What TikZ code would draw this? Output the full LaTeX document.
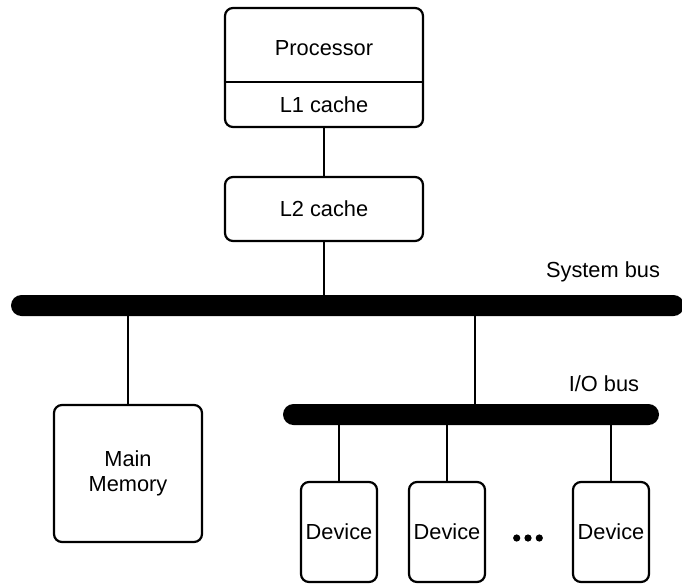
\documentclass[tikz,border=0pt]{standalone}
\usepackage{fontspec}
\setmainfont{Liberation Sans}
\begin{document}
\begin{tikzpicture}[x=1pt,y=-1pt,
  box/.style={draw=black,line width=2.2pt,rounded corners=8pt,inner sep=0pt,fill=white},
  busbar/.style={fill=black,rounded corners=10.5pt,inner sep=0pt,minimum height=21pt},
  wire/.style={draw=black,line width=2.2pt},
  txt/.style={font=\fontsize{21.8}{25}\selectfont,inner sep=0pt,align=center}]
\useasboundingbox (0,0) rectangle (682,584);
% processor with L1 cache
\node[box,minimum width=198pt,minimum height=119pt] (cpu) at (324,67.5) {};
\draw[line width=2.2pt] (cpu.west |- 0,82) coordinate (dl) -- (cpu.east |- 0,82) coordinate (dr);
\node[txt] (proc) at (324,48) {Processor};
\node[txt] (l1) at (324,104.5) {L1 cache};
% L2 cache
\node[box,minimum width=198pt,minimum height=64pt] (l2) at (324,209) {};
\node[txt] (l2t) at (324,209) {L2 cache};
% system bus
\node[busbar,minimum width=673pt] (sys) at (347.5,305.5) {};
\node[txt] (syst) at (603,272) {System bus};
% memory
\node[box,minimum width=148pt,minimum height=137pt,txt] (mem) at (128,473.5) {Main\\Memory};
% I/O bus
\node[busbar,minimum width=376pt] (io) at (471,414.5) {};
\node[txt] (iot) at (604,384) {I/O bus};
% devices
\node[box,minimum width=76pt,minimum height=100pt,txt] (d1) at (339,532) {Device};
\node[box,minimum width=76pt,minimum height=100pt,txt] (d2) at (447,532) {Device};
\node[box,minimum width=76pt,minimum height=100pt,txt] (d3) at (611,532) {Device};
% connectors
\draw[wire] (cpu.south) -- (l2.north);
\draw[wire] (l2.south) -- (l2.south |- sys.north);
\draw[wire] (mem.north |- sys.south) -- (mem.north);
\coordinate (iotap) at (475,0);
\draw[wire] (iotap |- sys.south) -- (iotap |- io.north);
\draw[wire] (d1.north |- io.south) -- (d1.north);
\draw[wire] (d2.north |- io.south) -- (d2.north);
\draw[wire] (d3.north |- io.south) -- (d3.north);
% dots
\fill (516.7,538) circle (3.6pt) (528,538) circle (3.6pt) (539.3,538) circle (3.6pt);
\end{tikzpicture}
\end{document}
